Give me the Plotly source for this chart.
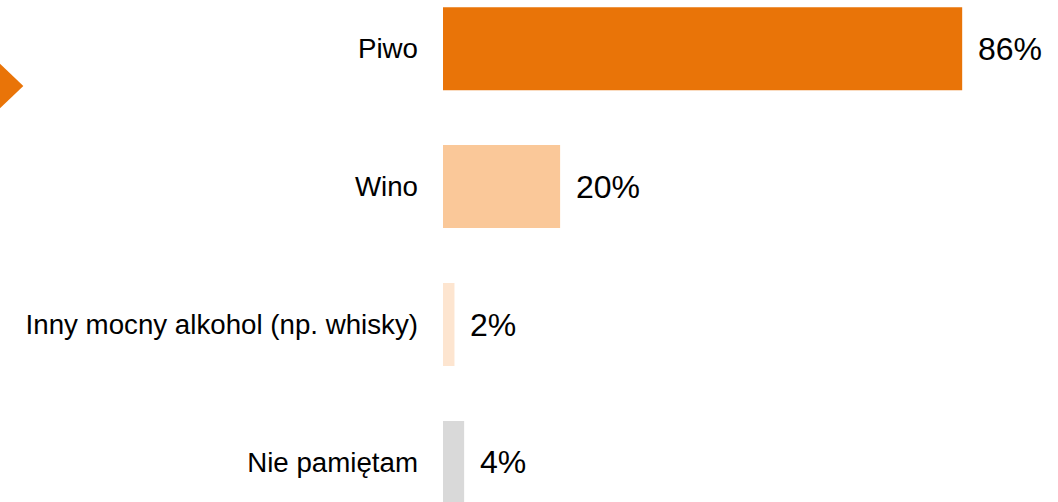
import plotly.graph_objects as go

categories = ["Piwo", "Wino", "Inny mocny alkohol (np. whisky)", "Nie pamiętam"]
values = [86, 19.4, 1.9, 3.5]
value_labels = ["86%", "20%", "2%", "4%"]
colors = ["#E97408", "#FAC899", "#FDE5D0", "#D9D9D9"]

W, H = 1058, 502
L = 442.5
px_per_unit = 519.6 / 86.0
x_max = (W - L) / px_per_unit
cat_px = 137.9
top = -48.7 / cat_px
bottom = top + H / cat_px

font_family = "Arial, Liberation Sans, sans-serif"

fig = go.Figure()
fig.add_trace(go.Bar(
    x=values, y=categories, orientation="h",
    marker=dict(color=colors, line=dict(width=0)),
    width=0.602, hoverinfo="skip",
))

for c, v, t in zip(categories, values, value_labels):
    fig.add_annotation(x=v, y=c, text=t, xref="x", yref="y",
                       xanchor="left", yanchor="middle", showarrow=False,
                       xshift=14, font=dict(size=32, color="black", family=font_family))

def px2paper_x(px):
    return (px - L) / (W - L)

def px2paper_y(py):
    return (H - py) / H

pts = [(-1, 63.5), (22.5, 86), (-1, 108.5)]
path = "M {} {} L {} {} L {} {} Z".format(
    px2paper_x(pts[0][0]), px2paper_y(pts[0][1]),
    px2paper_x(pts[1][0]), px2paper_y(pts[1][1]),
    px2paper_x(pts[2][0]), px2paper_y(pts[2][1]))
fig.add_shape(type="path", path=path, xref="paper", yref="paper",
              fillcolor="#E97408", line=dict(width=0))

fig.update_layout(
    width=W, height=H,
    margin=dict(l=L, r=0, t=0, b=0),
    paper_bgcolor="white", plot_bgcolor="white",
    showlegend=False,
    xaxis=dict(range=[0, x_max], visible=False, fixedrange=True),
    yaxis=dict(range=[bottom, top], showgrid=False, zeroline=False, showline=False,
               ticks="", ticklabelstandoff=24,
               tickfont=dict(size=27.7, color="black", family=font_family)),
)

fig.write_html("out.html")
